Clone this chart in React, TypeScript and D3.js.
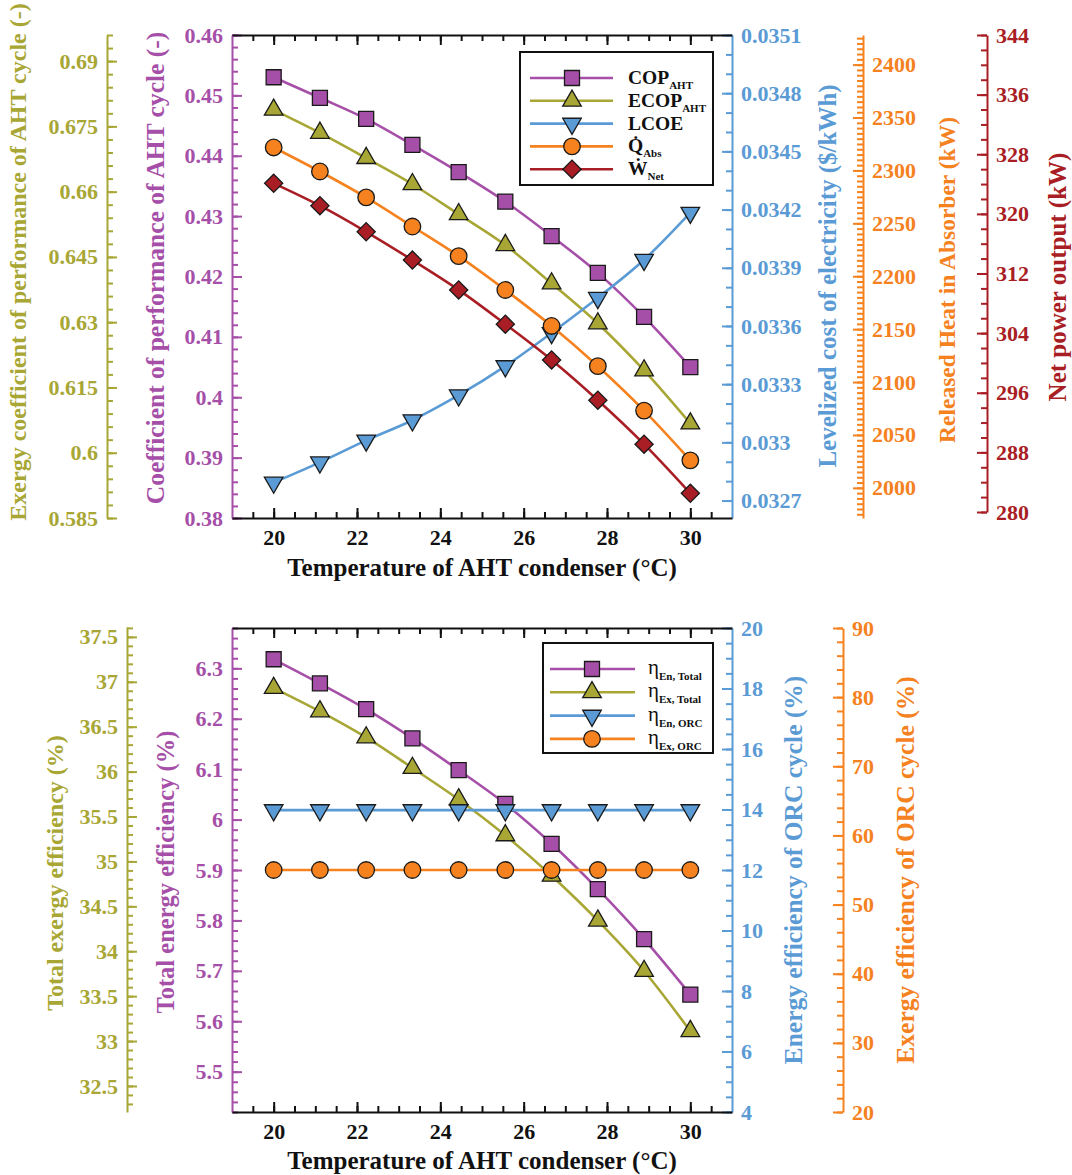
import React, { useEffect, useRef } from 'react';
import * as d3 from 'd3';

// condenser temperatures (°C)
const temps = [20, 21.11, 22.22, 23.33, 24.44, 25.56, 26.67, 27.78, 28.89, 30];

// top panel
const copAht = [0.453, 0.4496, 0.4461, 0.4418, 0.4373, 0.4324, 0.4267, 0.4206, 0.4133, 0.405];
const ecopAht = [0.6788, 0.6735, 0.6677, 0.6617, 0.6548, 0.6477, 0.6389, 0.6297, 0.6189, 0.6067];
const lcoe = [0.032793, 0.032897, 0.03301, 0.033114, 0.033243, 0.033393, 0.033564, 0.033745, 0.033941, 0.034184];
const qAbs = [2321.7, 2299, 2274.5, 2247, 2219, 2187, 2153, 2115, 2073, 2026];
const wNet = [324.1, 321.1, 317.6, 313.8, 309.8, 305.2, 300.4, 295.0, 289.1, 282.5];

// bottom panel
const etaEnTotal = [6.318, 6.27, 6.219, 6.161, 6.098, 6.031, 5.952, 5.862, 5.763, 5.653];
const etaExTotal = [36.93, 36.67, 36.38, 36.04, 35.69, 35.29, 34.84, 34.34, 33.78, 33.11];
const etaEnOrc = [13.98, 13.98, 13.98, 13.98, 13.98, 13.98, 13.98, 13.98, 13.98, 13.98];
const etaExOrc = [55, 55, 55, 55, 55, 55, 55, 55, 55, 55];

const xTickLabels = [20, 22, 24, 26, 28, 30];

const FONT = '"Liberation Serif", "Times New Roman", serif';
const PURPLE = '#A64FA8';
const OLIVE = '#A8A634';
const BLUE = '#5B9BD5';
const ORANGE = '#F5821F';
const RED = '#A81E24';

const steps = (a: number, b: number, s: number, dec: number) =>
    d3.range(Math.round((b - a) / s) + 1).map(i => +(a + i * s).toFixed(dec));

function yAxis(svg: any, scale: any, x: number, orient: string, majors: number[], minors: number[], color: string, dec: number) {
    const mk = orient === 'left' ? d3.axisLeft : d3.axisRight;
    const gm = svg.append('g').attr('transform', `translate(${x},0)`)
        .call(mk(scale).tickValues(minors).tickSize(-6).tickSizeOuter(0).tickFormat(() => ''));
    gm.select('.domain').remove();
    gm.selectAll('line').attr('stroke', color).attr('stroke-width', 2);
    const g = svg.append('g').attr('transform', `translate(${x},0)`)
        .call(mk(scale).tickValues(majors).tickSize(-10).tickSizeOuter(0).tickPadding(9)
            .tickFormat((d: any) => String(+(+d).toFixed(dec))));
    g.selectAll('line').attr('stroke', color).attr('stroke-width', 2);
    g.select('.domain').attr('stroke', color).attr('stroke-width', 2);
    g.selectAll('text').attr('fill', color).attr('font-size', 22)
        .attr('font-family', FONT).attr('font-weight', 'bold');
}

function xAxes(svg: any, x: any, y0: number, y1: number) {
    const minors = steps(19.5, 30.5, 0.5, 1);
    [[d3.axisBottom, y1], [d3.axisTop, y0]].forEach(([mk, y]: any, i) => {
        const gm = svg.append('g').attr('transform', `translate(0,${y})`)
            .call(mk(x).tickValues(minors).tickSize(-6).tickSizeOuter(0).tickFormat(() => ''));
        gm.select('.domain').remove();
        gm.selectAll('line').attr('stroke', '#111').attr('stroke-width', 2);
        const g = svg.append('g').attr('transform', `translate(0,${y})`)
            .call(mk(x).tickValues(xTickLabels).tickSize(-10).tickSizeOuter(0).tickPadding(11)
                .tickFormat((d: any) => (i === 0 ? String(d) : '')));
        g.selectAll('line').attr('stroke', '#111').attr('stroke-width', 2);
        g.select('.domain').attr('stroke', '#111').attr('stroke-width', 2);
        g.selectAll('text').attr('fill', '#111').attr('font-size', 22)
            .attr('font-family', FONT).attr('font-weight', 'bold');
    });
}

function marker(g: any, kind: string, cx: number, cy: number, fill: string) {
    let sym: any = d3.symbolSquare, size = 225, rot = 0;
    if (kind === 'tri') { sym = d3.symbolTriangle; size = 150; }
    if (kind === 'tridown') { sym = d3.symbolTriangle; size = 150; rot = 180; }
    if (kind === 'circle') { sym = d3.symbolCircle; size = 215; }
    if (kind === 'diamond') { size = 165; rot = 45; }
    g.append('path').attr('d', d3.symbol(sym, size)())
        .attr('transform', `translate(${cx},${cy}) rotate(${rot})`)
        .attr('fill', fill).attr('stroke', '#1a1a1a').attr('stroke-width', 1.3);
}

function series(svg: any, x: any, y: any, vals: number[], color: string, kind: string) {
    const line = d3.line<number>().x((_, i) => x(temps[i])).y(d => y(d)).curve(d3.curveMonotoneX);
    svg.append('path').attr('d', line(vals)).attr('fill', 'none').attr('stroke', color).attr('stroke-width', 2.6);
    vals.forEach((v, i) => marker(svg, kind, x(temps[i]), y(v), color));
}

function yTitle(svg: any, text: string, x: number, y: number, color: string, size = 24.5) {
    svg.append('text').attr('transform', `translate(${x},${y}) rotate(-90)`)
        .attr('text-anchor', 'middle').attr('dominant-baseline', 'central')
        .attr('fill', color).attr('font-size', size).attr('font-family', FONT).attr('font-weight', 'bold')
        .text(text);
}

function xTitle(svg: any, y: number) {
    svg.append('text').attr('x', 482).attr('y', y).attr('text-anchor', 'middle')
        .attr('fill', '#111').attr('font-size', 25).attr('font-family', FONT).attr('font-weight', 'bold')
        .text('Temperature of AHT condenser (°C)');
}

export default function App() {
    const ref = useRef<SVGSVGElement>(null);

    useEffect(() => {
        const svg = d3.select(ref.current);
        svg.selectAll('*').remove();
        svg.append('rect').attr('width', 1072).attr('height', 1175).attr('fill', '#fff');

        const x = d3.scaleLinear().domain([19, 31]).range([232, 732]);

        // ---------- top panel ----------
        const T0 = 35, T1 = 518;
        const yCop = d3.scaleLinear().domain([0.38, 0.46]).range([T1, T0]);
        const yEcop = d3.scaleLinear().domain([0.585, 0.696]).range([T1, T0]);
        const yLcoe = d3.scaleLinear().domain([0.03261, 0.0351]).range([T1, T0]);
        const yQ = d3.scaleLinear().domain([1971.5, 2428]).range([T1, T0]);
        const yW = d3.scaleLinear().domain([280, 344]).range([512, T0]);

        yAxis(svg, yEcop, 107, 'left', steps(0.585, 0.69, 0.015, 3), steps(0.585, 0.696, 0.003, 3), OLIVE, 3);
        yAxis(svg, yCop, 232, 'left', steps(0.38, 0.46, 0.01, 2), steps(0.38, 0.46, 0.002, 3), PURPLE, 2);
        yAxis(svg, yLcoe, 732, 'right', steps(0.0327, 0.0351, 0.0003, 4), steps(0.0327, 0.0351, 0.0001, 4), BLUE, 4);
        yAxis(svg, yQ, 863, 'right', steps(2000, 2400, 50, 0), steps(1975, 2425, 5, 0), ORANGE, 0);
        yAxis(svg, yW, 987, 'right', steps(280, 344, 8, 0), steps(280, 344, 2, 0), RED, 0);
        xAxes(svg, x, T0, T1);

        series(svg, x, yCop, copAht, PURPLE, 'square');
        series(svg, x, yEcop, ecopAht, OLIVE, 'tri');
        series(svg, x, yLcoe, lcoe, BLUE, 'tridown');
        series(svg, x, yQ, qAbs, ORANGE, 'circle');
        series(svg, x, yW, wNet, RED, 'diamond');

        yTitle(svg, 'Exergy coefficient of performance of AHT cycle (-)', 18, 262, OLIVE, 24);
        yTitle(svg, 'Coefficient of performance of AHT cycle (-)', 155, 268, PURPLE, 25.5);
        yTitle(svg, 'Levelized cost of electricity ($/kWh)', 827, 276, BLUE, 25);
        yTitle(svg, 'Released Heat in Absorber (kW)', 947, 280, ORANGE, 23.5);
        yTitle(svg, 'Net power output (kW)', 1057, 277, RED, 25);
        xTitle(svg, 576);

        // top legend
        const lg = svg.append('g');
        lg.append('rect').attr('x', 520).attr('y', 52).attr('width', 193).attr('height', 133)
            .attr('fill', '#fff').attr('stroke', '#111').attr('stroke-width', 2);
        const topItems = [
            { c: PURPLE, k: 'square', main: 'COP', sub: 'AHT' },
            { c: OLIVE, k: 'tri', main: 'ECOP', sub: 'AHT' },
            { c: BLUE, k: 'tridown', main: 'LCOE', sub: '' },
            { c: ORANGE, k: 'circle', main: 'Q\u0307', sub: 'Abs' },
            { c: RED, k: 'diamond', main: 'W\u0307', sub: 'Net' },
        ];
        topItems.forEach((it, i) => {
            const cy = 78 + i * 22.8;
            lg.append('line').attr('x1', 530).attr('x2', 613).attr('y1', cy).attr('y2', cy)
                .attr('stroke', it.c).attr('stroke-width', 2.6);
            marker(lg, it.k, 572, cy, it.c);
            const t = lg.append('text').attr('x', 628).attr('y', cy + 6).attr('fill', '#111')
                .attr('font-family', FONT).attr('font-weight', 'bold').attr('font-size', 19.5);
            t.append('tspan').text(it.main);
            if (it.sub) t.append('tspan').attr('dy', 5).attr('font-size', 11).text(it.sub);
        });

        // ---------- bottom panel ----------
        const B0 = 628, B1 = 1112;
        const yEn = d3.scaleLinear().domain([5.42, 6.38]).range([B1, B0]);
        const yEx = d3.scaleLinear().domain([32.21, 37.61]).range([B1, 627]);
        const yEnO = d3.scaleLinear().domain([4, 20]).range([B1, B0]);
        const yExO = d3.scaleLinear().domain([20, 90]).range([B1, B0]);

        yAxis(svg, yEx, 127, 'left', steps(32.5, 37.5, 0.5, 1), steps(32.3, 37.6, 0.1, 1), OLIVE, 1);
        yAxis(svg, yEn, 232, 'left', steps(5.5, 6.3, 0.1, 1), steps(5.42, 6.38, 0.02, 2), PURPLE, 1);
        yAxis(svg, yEnO, 732, 'right', steps(4, 20, 2, 0), steps(4, 20, 0.5, 1), BLUE, 0);
        yAxis(svg, yExO, 843, 'right', steps(20, 90, 10, 0), steps(20, 90, 2, 0), ORANGE, 0);
        xAxes(svg, x, B0, B1);

        series(svg, x, yEn, etaEnTotal, PURPLE, 'square');
        series(svg, x, yEx, etaExTotal, OLIVE, 'tri');
        series(svg, x, yEnO, etaEnOrc, BLUE, 'tridown');
        series(svg, x, yExO, etaExOrc, ORANGE, 'circle');

        yTitle(svg, 'Total exergy efficiency (%)', 55, 873, OLIVE, 24);
        yTitle(svg, 'Total energy efficiency (%)', 165, 872, PURPLE, 24.5);
        yTitle(svg, 'Energy efficiency of ORC cycle (%)', 793, 870, BLUE, 25.5);
        yTitle(svg, 'Exergy efficiency of ORC cycle (%)', 905, 870, ORANGE, 25.5);
        xTitle(svg, 1169);

        const lb = svg.append('g');
        lb.append('rect').attr('x', 543).attr('y', 643).attr('width', 170).attr('height', 110)
            .attr('fill', '#fff').attr('stroke', '#111').attr('stroke-width', 2);
        const botItems = [
            { c: PURPLE, k: 'square', sub: 'En, Total' },
            { c: OLIVE, k: 'tri', sub: 'Ex, Total' },
            { c: BLUE, k: 'tridown', sub: 'En, ORC' },
            { c: ORANGE, k: 'circle', sub: 'Ex, ORC' },
        ];
        botItems.forEach((it, i) => {
            const cy = 669 + i * 23.3;
            lb.append('line').attr('x1', 550).attr('x2', 635).attr('y1', cy).attr('y2', cy)
                .attr('stroke', it.c).attr('stroke-width', 2.6);
            marker(lb, it.k, 592, cy, it.c);
            const t = lb.append('text').attr('x', 648).attr('y', cy + 5).attr('fill', '#111')
                .attr('font-family', FONT).attr('font-size', 21);
            t.append('tspan').text('η');
            t.append('tspan').attr('dy', 6).attr('font-size', 11).attr('font-weight', 'bold').text(it.sub);
        });
    }, []);

    return (
        <svg ref={ref} width={1072} height={1175}
            style={{ position: 'absolute', left: 0, top: 0, display: 'block' }} />
    );
}
